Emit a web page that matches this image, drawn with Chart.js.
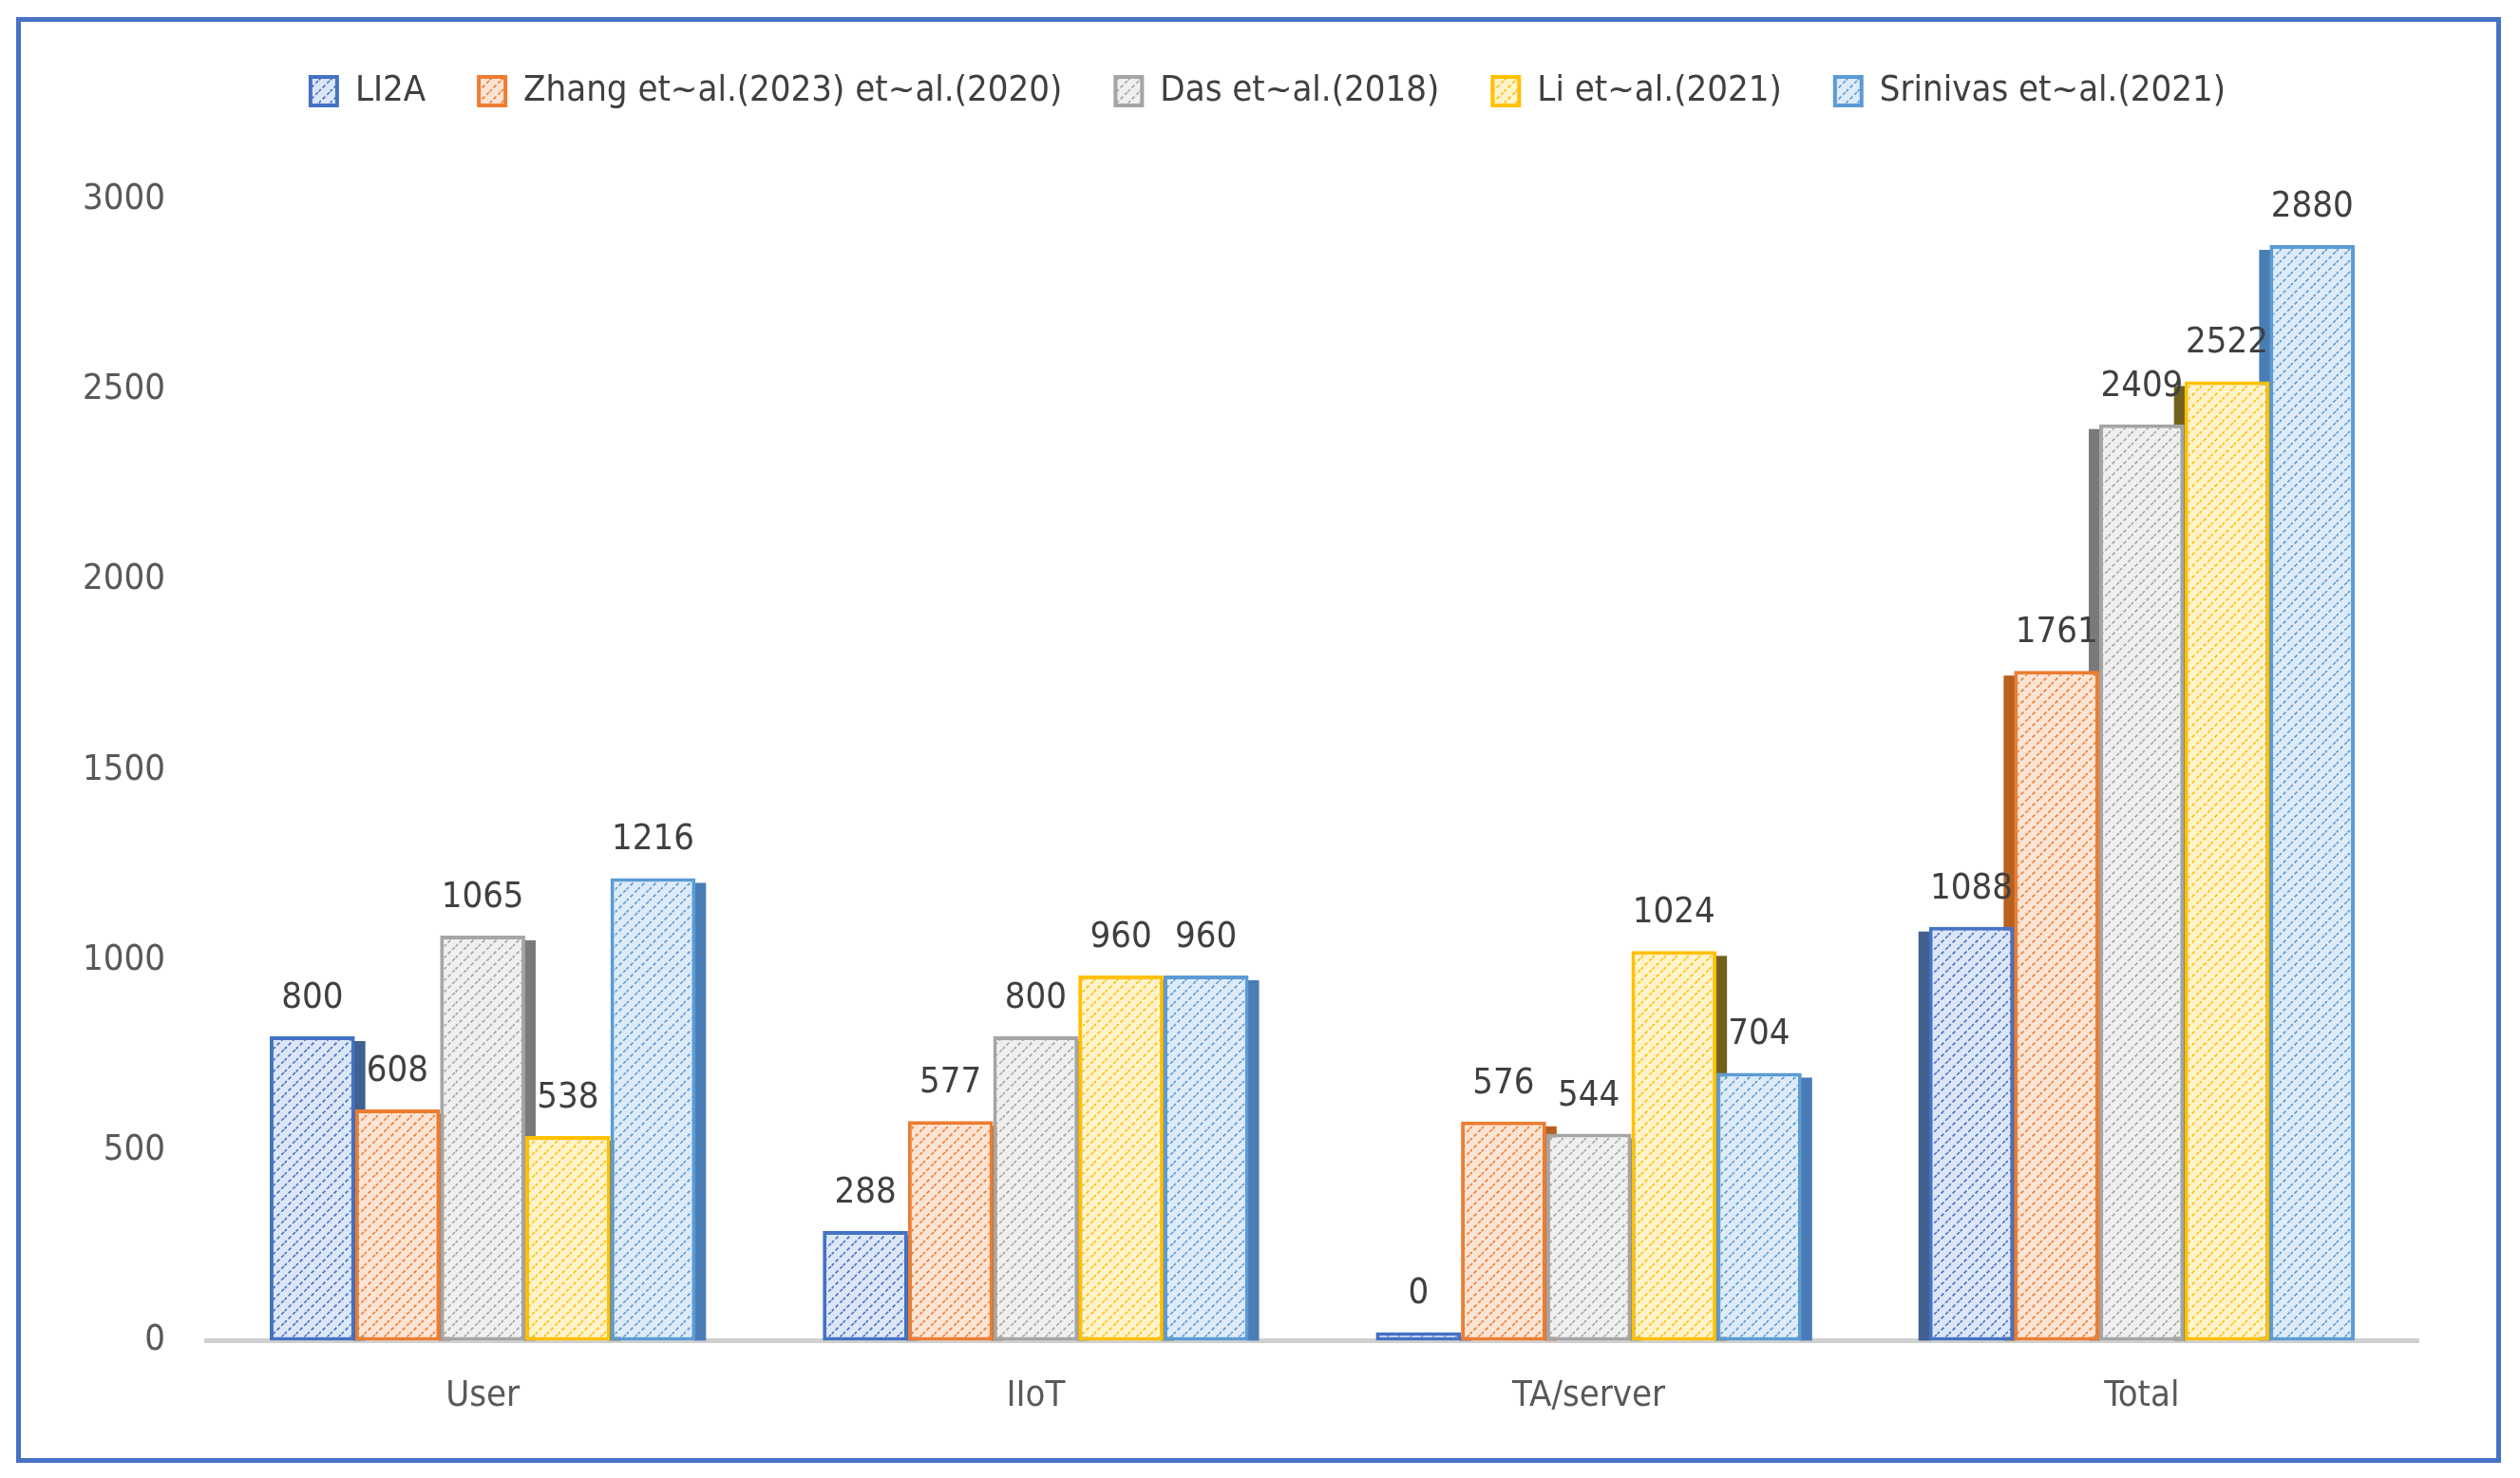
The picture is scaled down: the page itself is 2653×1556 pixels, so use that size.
<!DOCTYPE html>
<html>
<head>
<meta charset="utf-8">
<script src="https://cdn.jsdelivr.net/npm/chart.js@4.4.0/dist/chart.umd.min.js"></script>
<style>
  body { margin: 0; background: #fff; }
  #wrap { position: relative; width: 2653px; height: 1556px; }
  #frame { position: absolute; left: 17px; top: 18px; width: 2606px; height: 1512px; border: 5px solid #4472C4; }
  canvas { position: absolute; left: 0; top: 0; }
</style>
</head>
<body>
<div id="wrap">
  <canvas id="myChart" width="2653" height="1556"></canvas>
  <div id="frame"></div>
</div>
<script>
var categories = ["User", "IIoT", "TA/server", "Total"];
var seriesNames = ["LI2A", "Zhang et~al.(2023) et~al.(2020)", "Das et~al.(2018)", "Li et~al.(2021)", "Srinivas et~al.(2021)"];
var li2a = [800, 288, 0, 1088];
var zhang = [608, 577, 576, 1761];
var das = [1065, 800, 544, 2409];
var li = [538, 960, 1024, 2522];
var srinivas = [1216, 960, 704, 2880];
var yTicks = [0, 500, 1000, 1500, 2000, 2500, 3000];

var lineColors = ["#4472C4", "#ED7D31", "#A5A5A5", "#FFC000", "#5B9BD5"];
var tintColors = ["#DCE6F6", "#FCE4D4", "#EFEFEF", "#FFF3CC", "#DEEBF7"];
var sideColors = ["#40608F", "#B8601F", "#7A7A7A", "#70621E", "#4A7DB5"];

var fontFamily = "'DejaVu Sans Condensed', 'Open Sans', sans-serif";

//Build a hatched fill for each series
function makeHatch(tint, line) {
    var c = document.createElement("canvas");
    c.width = 12;
    c.height = 12;
    var g = c.getContext("2d");
    g.fillStyle = tint;
    g.fillRect(0, 0, 12, 12);
    g.strokeStyle = line;
    g.lineWidth = 1.6;
    g.setLineDash([4, 2.5]);
    g.beginPath();
    g.moveTo(-1, 13); g.lineTo(13, -1);
    g.moveTo(-7, 7); g.lineTo(7, -7);
    g.moveTo(5, 19); g.lineTo(19, 5);
    g.stroke();
    return g.createPattern(c, "repeat");
}

var ctx = document.getElementById("myChart").getContext('2d');
var allValues = [li2a, zhang, das, li, srinivas];
var datasets = [];
for (var i = 0; i < allValues.length; i++) {
    datasets.push({
        label: seriesNames[i],
        data: allValues[i],
        backgroundColor: makeHatch(tintColors[i], lineColors[i]),
        borderColor: lineColors[i],
        borderWidth: 4,
        borderSkipped: false,
        minBarLength: i == 0 ? 9 : 0,
        categoryPercentage: 0.77,
        barPercentage: 1.0
    });
}

//Darker side strip to fake the 3D look of the original bars
var sidePlugin = {
    id: "sides",
    beforeDatasetsDraw: function(chart) {
        var c = chart.ctx;
        chart.data.datasets.forEach(function(ds, di) {
            var meta = chart.getDatasetMeta(di);
            meta.data.forEach(function(bar, idx) {
                var p = bar.getProps(["x", "y", "base", "width"], true);
                var w = 13;
                var x0 = idx < 3 ? p.x + p.width / 2 - 2 : p.x - p.width / 2 - w + 2;
                c.fillStyle = sideColors[di];
                c.fillRect(x0, p.y + 5, w, p.base - p.y - 5);
            });
        });
    }
};

//Value labels on top of each bar
var labelPlugin = {
    id: "valueLabels",
    afterDatasetsDraw: function(chart) {
        var c = chart.ctx;
        c.save();
        c.font = "38px " + fontFamily;
        c.fillStyle = "#404040";
        c.textAlign = "center";
        c.textBaseline = "alphabetic";
        chart.data.datasets.forEach(function(ds, di) {
            var meta = chart.getDatasetMeta(di);
            meta.data.forEach(function(bar, idx) {
                c.fillText(String(ds.data[idx]), bar.x, bar.y - 30);
            });
        });
        c.restore();
    }
};

//The original legend sits a little right of the canvas centre
var legendShift = {
    id: "legendShift",
    afterLayout: function(chart) {
        chart.legend.left += 62;
        chart.legend.right += 62;
    }
};

var bgPlugin = {
    id: "bg",
    beforeDraw: function(chart) {
        chart.ctx.fillStyle = "#fff";
        chart.ctx.fillRect(0, 0, chart.width, chart.height);
    }
};

var myChart = new Chart(ctx, {
    type: 'bar',
    data: {
        labels: categories,
        datasets: datasets
    },
    options: {
        responsive: false,
        animation: false,
        devicePixelRatio: 1,
        layout: {
            padding: { top: 21, right: 107, bottom: 27, left: 0 }
        },
        plugins: {
            legend: {
                position: 'top',
                labels: {
                    font: { family: fontFamily, size: 38 },
                    color: "#404040",
                    boxWidth: 28,
                    boxHeight: 30,
                    padding: 56
                }
            },
            // empty title used only as a spacer between legend and plot
            title: {
                display: true,
                text: '',
                weight: 500,
                font: { size: 10 },
                padding: { top: 0, bottom: 73 }
            },
            tooltip: { enabled: false }
        },
        scales: {
            x: {
                grid: { display: false, drawTicks: false },
                border: { display: true, color: "#D0D0D0", width: 5 },
                ticks: {
                    font: { family: fontFamily, size: 38 },
                    color: "#595959",
                    padding: 36
                }
            },
            y: {
                min: 0,
                max: 3000,
                afterFit: function(scale) { scale.width = 217; },
                afterBuildTicks: function(scale) {
                    scale.ticks = yTicks.map(function(v) { return { value: v }; });
                },
                grid: { display: false, drawTicks: false },
                border: { display: false },
                ticks: {
                    font: { family: fontFamily, size: 38 },
                    color: "#595959",
                    padding: 43,
                    callback: function(v) { return String(v); }
                }
            }
        }
    },
    plugins: [bgPlugin, legendShift, sidePlugin, labelPlugin]
});
</script>
</body>
</html>
